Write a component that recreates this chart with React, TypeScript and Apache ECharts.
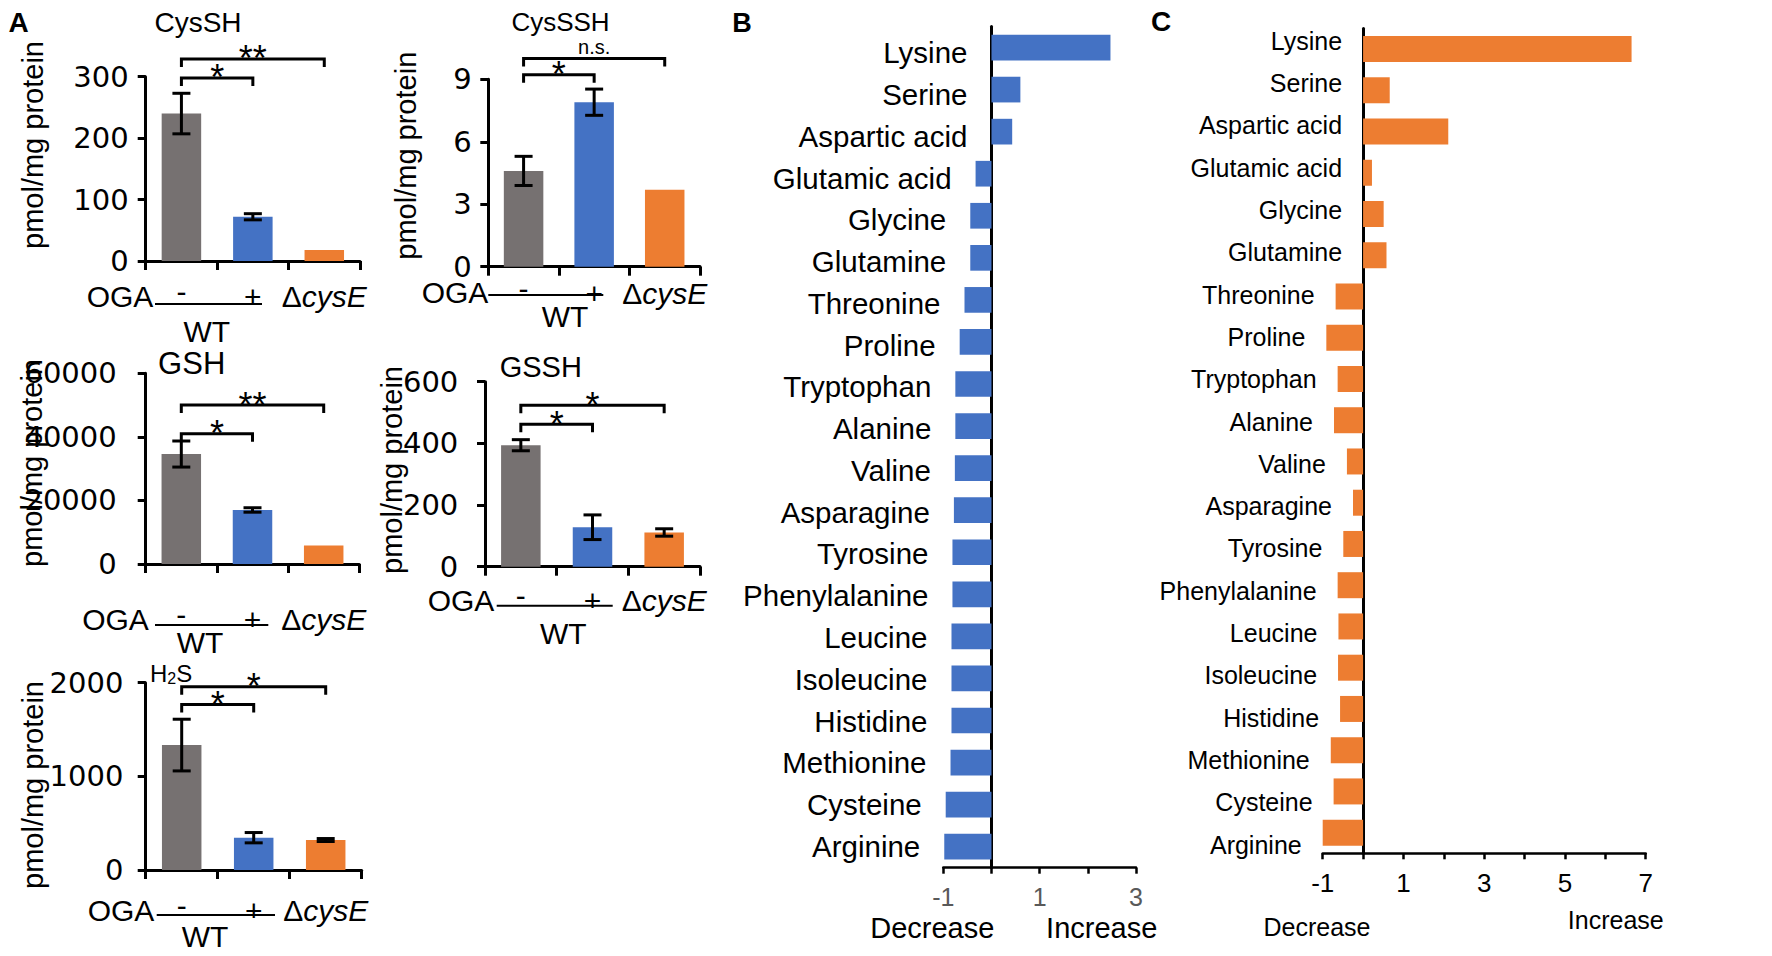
import React, { useEffect, useRef } from 'react';
import * as echarts from 'echarts';

// ---------- DATA ----------
const groups = ['-', '+', 'ΔcysE'];

const cysSHMean = [240, 72, 18];
const cysSHErr = [33, 5, 0];
const cysSHBrackets = [
  { from: 0, to: 1, y: 298, label: '*' },
  { from: 0, to: 2, y: 329, label: '**' },
];

const cysSSHMean = [4.6, 7.9, 3.7];
const cysSSHErr = [0.7, 0.63, 0];
const cysSSHBrackets = [
  { from: 0, to: 1, y: 9.22, label: '*' },
  { from: 0, to: 2, y: 10.0, label: 'n.s.' },
];

const gshMean = [34600, 17000, 5800];
const gshErr = [4100, 700, 0];
const gshBrackets = [
  { from: 0, to: 1, y: 41000, label: '*' },
  { from: 0, to: 2, y: 50000, label: '**' },
];

const gsshMean = [394, 128, 111];
const gsshErr = [18, 40, 12];
const gsshBrackets = [
  { from: 0, to: 1, y: 462, label: '*' },
  { from: 0, to: 2, y: 524, label: '*' },
];

const h2sMean = [1334, 345, 320];
const h2sErr = [276, 55, 16];
const h2sBrackets = [
  { from: 0, to: 1, y: 1768, label: '*' },
  { from: 0, to: 2, y: 1956, label: '*' },
];

const aminoAcids = [
  'Lysine', 'Serine', 'Aspartic acid', 'Glutamic acid', 'Glycine', 'Glutamine',
  'Threonine', 'Proline', 'Tryptophan', 'Alanine', 'Valine', 'Asparagine',
  'Tyrosine', 'Phenylalanine', 'Leucine', 'Isoleucine', 'Histidine',
  'Methionine', 'Cysteine', 'Arginine',
];
const changeB = [
  2.47, 0.6, 0.43, -0.33, -0.44, -0.44, -0.56, -0.66, -0.75, -0.75, -0.76,
  -0.78, -0.81, -0.81, -0.83, -0.83, -0.83, -0.85, -0.95, -0.98,
];
const changeC = [
  6.65, 0.66, 2.11, 0.22, 0.51, 0.58, -0.68, -0.91, -0.63, -0.72, -0.4,
  -0.25, -0.49, -0.63, -0.61, -0.62, -0.57, -0.8, -0.73, -1.0,
];

// ---------- STYLE / LAYOUT ----------
const SANS = "'Liberation Sans', Arial, Helvetica, sans-serif";
const WIDE = "'DejaVu Sans', Verdana, sans-serif";
const GRAY = '#767171';
const BLUE = '#4472C4';
const ORANGE = '#ED7D31';
const groupColors = [GRAY, BLUE, ORANGE];

const panelsA = [
  {
    title: 'CysSH', mean: cysSHMean, err: cysSHErr, brackets: cysSHBrackets, max: 300, interval: 100,
    L: { left: 145.7, top: 76.7, width: 214.3, height: 184.3, yMargin: 17, xMargin: 21, titleSize: 28,
      title: [198, 22], name: [33.3, 145], oga: [120, 296], line: [155, 262, 304], wt: [206.7, 331] },
  },
  {
    title: 'CysSSH', mean: cysSSHMean, err: cysSSHErr, brackets: cysSSHBrackets, max: 9, interval: 3,
    L: { left: 488.3, top: 79.3, width: 211.7, height: 187.4, yMargin: 16.7, xMargin: 12.3, titleSize: 26,
      title: [560.5, 21.7], name: [406, 155.7], oga: [455, 292.5], line: [488.3, 603.3, 295], wt: [565, 316.7] },
  },
  {
    title: 'GSH', mean: gshMean, err: gshErr, brackets: gshBrackets, max: 60000, interval: 20000,
    L: { left: 145.7, top: 373.3, width: 213.6, height: 190.7, yMargin: 29, xMargin: 41.5, titleSize: 31,
      title: [191.7, 363.3], name: [31.5, 463], oga: [115.5, 619.5], line: [155, 268.3, 625], wt: [200, 642.5] },
  },
  {
    title: 'GSSH', mean: gsshMean, err: gsshErr, brackets: gsshBrackets, max: 600, interval: 200,
    L: { left: 485, top: 381.7, width: 215, height: 185, yMargin: 26.7, xMargin: 19.6, titleSize: 29,
      title: [540.8, 366.7], name: [391.7, 470], oga: [461, 600.3], line: [496.7, 612.7, 605.7], wt: [563.3, 633.3] },
  },
  {
    title: 'H2S', mean: h2sMean, err: h2sErr, brackets: h2sBrackets, max: 2000, interval: 1000,
    L: { left: 145.7, top: 682.7, width: 216, height: 187.3, yMargin: 22.3, xMargin: 26, titleSize: 24,
      title: [150, 673], name: [33.3, 785], oga: [121, 910], line: [156.7, 275, 915], wt: [205, 936.7] },
  },
];

function txt(x: number, y: number, text: string, fontSize: number, extra: any = {}, rotation = 0) {
  return {
    type: 'text', x, y, rotation, silent: true,
    style: { text, fontSize, fontFamily: SANS, fill: '#000', align: 'center', verticalAlign: 'middle', ...extra },
  };
}

function errorBarRender(params: any, api: any) {
  const x = api.value(0);
  const lo = api.value(1);
  const hi = api.value(2);
  const a = api.coord([x, hi]);
  const b = api.coord([x, lo]);
  const w = 9;
  const st = { stroke: '#000', lineWidth: 3 };
  return {
    type: 'group',
    children: [
      { type: 'line', shape: { x1: a[0], y1: a[1], x2: b[0], y2: b[1] }, style: st },
      { type: 'line', shape: { x1: a[0] - w, y1: a[1], x2: a[0] + w, y2: a[1] }, style: st },
      { type: 'line', shape: { x1: b[0] - w, y1: b[1], x2: b[0] + w, y2: b[1] }, style: st },
    ],
  };
}

function makeBracketRender(brackets: { from: number; to: number; y: number; label: string }[]) {
  return (params: any, api: any) => {
    const b = brackets[params.dataIndex];
    const p1 = api.coord([b.from, b.y]);
    const p2 = api.coord([b.to, b.y]);
    const drop = 8;
    const star = b.label.indexOf('*') >= 0;
    return {
      type: 'group',
      children: [
        {
          type: 'polyline',
          shape: { points: [[p1[0], p1[1] + drop], [p1[0], p1[1]], [p2[0], p2[1]], [p2[0], p2[1] + drop]] },
          style: { stroke: '#000', lineWidth: 3, fill: null },
        },
        {
          type: 'text',
          x: (p1[0] + p2[0]) / 2,
          y: star ? p1[1] : p1[1] - 11.7,
          style: {
            text: b.label, fontSize: star ? 36 : 20, fontFamily: SANS, fill: '#000',
            align: 'center', verticalAlign: 'middle', lineHeight: star ? 20 : 16,
          },
        },
      ],
    };
  };
}

function buildOption() {
  const grid: any[] = [];
  const xAxis: any[] = [];
  const yAxis: any[] = [];
  const series: any[] = [];
  const graphic: any[] = [];
  const axisLineBlack = { color: '#000', width: 3 };

  panelsA.forEach((p, i) => {
    const L = p.L;
    grid.push({ left: L.left, top: L.top, width: L.width, height: L.height, containLabel: false, outerBoundsMode: 'none' });
    xAxis.push({
      gridIndex: i, type: 'category',
      data: groups.map((g) => (g === '-' ? { value: g, textStyle: { lineHeight: 12 } } : g)),
      axisLine: { show: true, onZero: false, lineStyle: axisLineBlack },
      axisTick: { show: true, length: 9, interval: 0, lineStyle: axisLineBlack },
      axisLabel: {
        interval: 0, margin: L.xMargin + 3, fontSize: 30, lineHeight: 22, fontFamily: SANS, color: '#000',
        formatter: (v: string) => (v === 'ΔcysE' ? 'Δ{i|cysE}' : v),
        rich: { i: { fontStyle: 'italic', fontSize: 30, lineHeight: 22, fontFamily: SANS, color: '#000' } },
      },
      splitLine: { show: false },
    });
    yAxis.push({
      gridIndex: i, type: 'value', min: 0, max: p.max, interval: p.interval,
      axisLine: { show: true, onZero: false, lineStyle: axisLineBlack },
      axisTick: { show: true, length: 8, lineStyle: axisLineBlack },
      axisLabel: {
        margin: L.yMargin, fontSize: 29, lineHeight: 22, fontFamily: WIDE, color: '#000',
        formatter: (v: number) => String(v),
      },
      splitLine: { show: false },
    });
    series.push({
      type: 'bar', xAxisIndex: i, yAxisIndex: i, barWidth: 39.5, silent: true,
      data: p.mean.map((v, k) => ({ value: v, itemStyle: { color: groupColors[k] } })),
    });
    series.push({
      type: 'custom', xAxisIndex: i, yAxisIndex: i, clip: false, z: 5, silent: true,
      data: p.mean.map((m, k) => [k, m - p.err[k], m + p.err[k]]).filter((d, k) => p.err[k] > 0),
      encode: { x: 0, y: [1, 2] },
      renderItem: errorBarRender,
    });
    series.push({
      type: 'custom', xAxisIndex: i, yAxisIndex: i, clip: false, z: 5, silent: true,
      data: p.brackets.map((b) => [b.from, b.to, b.y]),
      encode: { x: [0, 1], y: 2 },
      renderItem: makeBracketRender(p.brackets),
    });

    if (p.title === 'H2S') {
      graphic.push(txt(L.title[0], L.title[1], 'H', L.titleSize, { align: 'left', lineHeight: 20 }));
      graphic.push(txt(L.title[0] + 17.3, L.title[1] + 5, '2', 16, { align: 'left', lineHeight: 14 }));
      graphic.push(txt(L.title[0] + 26.3, L.title[1], 'S', L.titleSize, { align: 'left', lineHeight: 20 }));
    } else {
      graphic.push(txt(L.title[0], L.title[1], p.title, L.titleSize, { lineHeight: 22 }));
    }
    graphic.push(txt(L.name[0], L.name[1], 'pmol/mg protein', 29, { lineHeight: 24 }, Math.PI / 2));
    graphic.push(txt(L.oga[0], L.oga[1], 'OGA', 30, { lineHeight: 20 }));
    graphic.push({
      type: 'line', silent: true,
      shape: { x1: L.line[0], y1: L.line[2], x2: L.line[1], y2: L.line[2] },
      style: { stroke: '#000', lineWidth: 2 },
    });
    graphic.push(txt(L.wt[0], L.wt[1], 'WT', 30, { lineHeight: 20 }));
  });

  const oddOnly = (v: number) => (Math.abs(v % 2) === 1 ? String(v) : '');

  // Panel B (grid 5) and C (grid 6)
  const barPanels = [
    {
      values: changeB, color: BLUE, max: 3, left: 943.3, width: 192.7, top: 26.5, height: 841.2,
      tickFont: 25, tickColor: '#595959', tickMargin: 16.5, barWidth: 25.7,
      labelTop: 31.9, labelHeight: 835.3, labelFont: 29.5, labelDist: 24,
    },
    {
      values: changeC, color: ORANGE, max: 7, left: 1322.7, width: 323, top: 28.4, height: 824.9,
      tickFont: 26, tickColor: '#000', tickMargin: 17, barWidth: 26,
      labelTop: 19.65, labelHeight: 846.1, labelFont: 25, labelDist: 21,
    },
  ];
  barPanels.forEach((b, j) => {
    const gi = 5 + j;
    grid[gi] = { left: b.left, top: b.top, width: b.width, height: b.height, containLabel: false, outerBoundsMode: 'none' };
    xAxis[gi] = {
      gridIndex: gi, type: 'value', min: -1, max: b.max, interval: 1,
      axisLine: { show: true, onZero: false, lineStyle: { color: '#000', width: 2.5 } },
      axisTick: { show: true, length: 6, lineStyle: { color: '#000', width: 2.5 } },
      axisLabel: { formatter: oddOnly, margin: b.tickMargin, fontSize: b.tickFont, fontFamily: SANS, color: b.tickColor },
      splitLine: { show: false },
    };
    yAxis[gi] = {
      gridIndex: gi, type: 'category', data: aminoAcids, inverse: true,
      axisLine: { show: true, onZero: true, lineStyle: { color: '#000', width: 3 } },
      axisTick: { show: false }, axisLabel: { show: false }, splitLine: { show: false },
    };
    series.push({
      type: 'bar', xAxisIndex: gi, yAxisIndex: gi, data: b.values, barWidth: b.barWidth, silent: true,
      itemStyle: { color: b.color },
    });
  });
  barPanels.forEach((b, j) => {
    const gi = 7 + j;
    grid[gi] = { left: b.left, top: b.labelTop, width: b.width, height: b.labelHeight, containLabel: false, outerBoundsMode: 'none' };
    xAxis[gi] = { gridIndex: gi, type: 'value', min: -1, max: b.max, show: false };
    yAxis[gi] = { gridIndex: gi, type: 'category', data: aminoAcids, inverse: true, show: false };
    series.push({
      type: 'bar', xAxisIndex: gi, yAxisIndex: gi, data: b.values, barWidth: 10, silent: true,
      itemStyle: { color: 'rgba(0,0,0,0)' },
      label: {
        show: true, position: 'left', distance: b.labelDist, formatter: (pp: any) => pp.name,
        fontSize: b.labelFont, fontFamily: SANS, color: '#000',
      },
    });
  });

  graphic.push(txt(932.3, 928.3, 'Decrease', 29));
  graphic.push(txt(1101.7, 928, 'Increase', 29));
  graphic.push(txt(1317, 926.7, 'Decrease', 25));
  graphic.push(txt(1615.8, 920, 'Increase', 25));

  graphic.push(txt(18.5, 22, 'A', 28, { fontWeight: 'bold' }));
  graphic.push(txt(742, 22.5, 'B', 27, { fontWeight: 'bold' }));
  graphic.push(txt(1161, 21, 'C', 28, { fontWeight: 'bold' }));

  return {
    animation: false,
    backgroundColor: '#fff',
    grid, xAxis, yAxis, series, graphic,
  };
}

export default function App() {
  const ref = useRef<HTMLDivElement>(null);
  useEffect(() => {
    if (!ref.current) return;
    const chart = echarts.init(ref.current, undefined, { renderer: 'svg' });
    chart.setOption(buildOption() as any);
    return () => chart.dispose();
  }, []);
  return (
    <div
      ref={ref}
      style={{ position: 'absolute', left: 0, top: 0, width: 1772, height: 956, background: '#fff' }}
    />
  );
}
